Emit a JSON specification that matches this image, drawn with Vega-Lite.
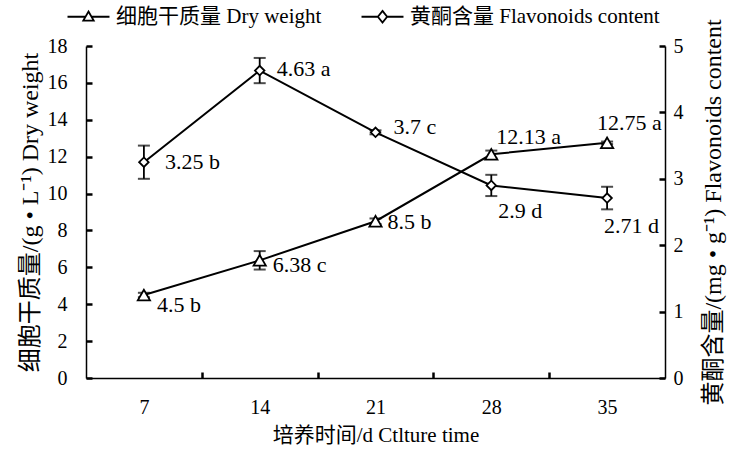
{
  "$schema": "https://vega.github.io/schema/vega-lite/v6.json",
  "width": 579,
  "height": 332,
  "autosize": {"type": "none"},
  "padding": {"left": 86, "top": 46, "right": 67, "bottom": 76},
  "background": "white",
  "config": {
    "view": {"stroke": null},
    "font": "Liberation Serif, Noto Sans CJK SC",
    "axis": {
      "grid": false,
      "domainColor": "black",
      "domainWidth": 1.5,
      "tickColor": "black",
      "tickWidth": 2.5,
      "tickSize": -6,
      "labelFont": "Liberation Serif",
      "labelFontSize": 20,
      "labelColor": "black",
      "labelOverlap": false,
      "labelFlush": false,
      "titleFont": "Liberation Serif, Noto Sans CJK SC",
      "titleFontWeight": "normal",
      "titleColor": "black"
    },
    "text": {"font": "Liberation Serif", "fontSize": 22, "color": "black", "baseline": "middle", "align": "left"}
  },
  "datasets": {
    "d": [
      {"series": "细胞干质量 Dry weight", "day": 7, "value": 4.5, "lo": 4.38, "hi": 4.62, "label": "4.5 b"},
      {"series": "细胞干质量 Dry weight", "day": 14, "value": 6.38, "lo": 5.88, "hi": 6.88, "label": "6.38 c"},
      {"series": "细胞干质量 Dry weight", "day": 21, "value": 8.5, "lo": 8.35, "hi": 8.65, "label": "8.5 b"},
      {"series": "细胞干质量 Dry weight", "day": 28, "value": 12.13, "lo": 11.93, "hi": 12.33, "label": "12.13 a"},
      {"series": "细胞干质量 Dry weight", "day": 35, "value": 12.75, "lo": 12.68, "hi": 12.82, "label": "12.75 a"},
      {"series": "黄酮含量 Flavonoids content", "day": 7, "value": 3.25, "lo": 3.0, "hi": 3.5, "label": "3.25 b"},
      {"series": "黄酮含量 Flavonoids content", "day": 14, "value": 4.63, "lo": 4.44, "hi": 4.82, "label": "4.63 a"},
      {"series": "黄酮含量 Flavonoids content", "day": 21, "value": 3.7, "lo": 3.67, "hi": 3.73, "label": "3.7 c"},
      {"series": "黄酮含量 Flavonoids content", "day": 28, "value": 2.9, "lo": 2.74, "hi": 3.06, "label": "2.9 d"},
      {"series": "黄酮含量 Flavonoids content", "day": 35, "value": 2.71, "lo": 2.54, "hi": 2.88, "label": "2.71 d"}
    ]
  },
  "data": {"name": "d"},
  "layer": [
    {
      "transform": [{"filter": "datum.series == '细胞干质量 Dry weight'"}],
      "encoding": {
        "x": {
          "field": "day", "type": "quantitative",
          "scale": {"domain": [3.5, 38.5], "nice": false, "zero": false},
          "axis": {
            "values": [7, 10.5, 14, 17.5, 21, 24.5, 28, 31.5, 35],
            "labelExpr": "datum.value % 7 == 0 ? datum.label : ''",
            "tickOpacity": {"condition": {"test": "datum.value % 7 == 0", "value": 0}, "value": 1},
            "labelPadding": 25,
            "title": "培养时间/d Ctlture time",
            "titleFontSize": 21,
            "titlePadding": 7
          }
        },
        "y": {
          "field": "value", "type": "quantitative",
          "scale": {"domain": [0, 18], "nice": false},
          "axis": {
            "orient": "left",
            "values": [0, 2, 4, 6, 8, 10, 12, 14, 16, 18],
            "labelPadding": 25,
            "title": "细胞干质量/(g • L⁻¹) Dry weight",
            "titleFontSize": 24,
            "titlePadding": 5
          }
        }
      },
      "layer": [
        {"mark": {"type": "rule", "color": "black", "strokeWidth": 1.8}, "encoding": {"y": {"field": "lo", "type": "quantitative"}, "y2": {"field": "hi"}}},
        {"mark": {"type": "tick", "orient": "horizontal", "color": "black", "size": 12, "thickness": 2}, "encoding": {"y": {"field": "lo", "type": "quantitative"}}},
        {"mark": {"type": "tick", "orient": "horizontal", "color": "black", "size": 12, "thickness": 2}, "encoding": {"y": {"field": "hi", "type": "quantitative"}}},
        {"mark": {"type": "line", "color": "black", "strokeWidth": 2}},
        {"mark": {"type": "point", "shape": "triangle-up", "filled": true, "fill": "white", "stroke": "black", "strokeWidth": 1.8, "size": 150, "opacity": 1}},
        {"mark": {"type": "point", "filled": false, "color": "black", "strokeWidth": 1.8, "size": 282, "opacity": 0},
         "encoding": {"shape": {"field": "series", "type": "nominal",
           "scale": {"domain": ["细胞干质量 Dry weight", "黄酮含量 Flavonoids content"],
                     "range": ["M-2.5,0H-0.36M0.36,0H2.5M0,-0.62L0.62,0.45L-0.62,0.45Z", "M-2.5,0H-0.55M0.55,0H2.5M0,-0.7L0.55,0L0,0.7L-0.55,0Z"]},
           "legend": {
             "orient": "none", "legendX": -8, "legendY": -40, "direction": "horizontal", "title": null,
             "symbolSize": 282, "symbolStrokeWidth": 1.8, "symbolStrokeColor": "black", "symbolOpacity": 1,
             "labelFont": "Liberation Serif, Noto Sans CJK SC", "labelFontSize": 21, "labelColor": "black", "labelOffset": 17, "labelLimit": 0, "columnPadding": 35
           }}}},
        {"transform": [{"filter": "datum.day == 7"}], "mark": {"type": "text", "dx": 13, "dy": 10}, "encoding": {"text": {"field": "label"}}},
        {"transform": [{"filter": "datum.day == 14"}], "mark": {"type": "text", "dx": 13, "dy": 5}, "encoding": {"text": {"field": "label"}}},
        {"transform": [{"filter": "datum.day == 21"}], "mark": {"type": "text", "dx": 12, "dy": 1}, "encoding": {"text": {"field": "label"}}},
        {"transform": [{"filter": "datum.day == 28"}], "mark": {"type": "text", "dx": 5, "dy": -17}, "encoding": {"text": {"field": "label"}}},
        {"transform": [{"filter": "datum.day == 35"}], "mark": {"type": "text", "dx": -10, "dy": -20}, "encoding": {"text": {"field": "label"}}}
      ]
    },
    {
      "transform": [{"filter": "datum.series == '黄酮含量 Flavonoids content'"}],
      "encoding": {
        "x": {"field": "day", "type": "quantitative", "scale": {"domain": [3.5, 38.5], "nice": false, "zero": false}},
        "y": {
          "field": "value", "type": "quantitative",
          "scale": {"domain": [0, 5], "nice": false},
          "axis": {
            "orient": "right",
            "values": [0, 1, 2, 3, 4, 5],
            "labelPadding": 14,
            "title": "黄酮含量/(mg • g⁻¹) Flavonoids content",
            "titleFontSize": 24,
            "titleAngle": 270,
            "titleBaseline": "top",
            "titlePadding": 18
          }
        }
      },
      "layer": [
        {"mark": {"type": "rule", "color": "black", "strokeWidth": 1.8}, "encoding": {"y": {"field": "lo", "type": "quantitative"}, "y2": {"field": "hi"}}},
        {"mark": {"type": "tick", "orient": "horizontal", "color": "black", "size": 12, "thickness": 2}, "encoding": {"y": {"field": "lo", "type": "quantitative"}}},
        {"mark": {"type": "tick", "orient": "horizontal", "color": "black", "size": 12, "thickness": 2}, "encoding": {"y": {"field": "hi", "type": "quantitative"}}},
        {"mark": {"type": "line", "color": "black", "strokeWidth": 2}},
        {"mark": {"type": "point", "shape": "diamond", "filled": true, "fill": "white", "stroke": "black", "strokeWidth": 1.8, "size": 90, "opacity": 1}},
        {"transform": [{"filter": "datum.day == 7"}], "mark": {"type": "text", "dx": 21, "dy": 0}, "encoding": {"text": {"field": "label"}}},
        {"transform": [{"filter": "datum.day == 14"}], "mark": {"type": "text", "dx": 17, "dy": -2}, "encoding": {"text": {"field": "label"}}},
        {"transform": [{"filter": "datum.day == 21"}], "mark": {"type": "text", "dx": 18, "dy": -5}, "encoding": {"text": {"field": "label"}}},
        {"transform": [{"filter": "datum.day == 28"}], "mark": {"type": "text", "dx": 7, "dy": 26}, "encoding": {"text": {"field": "label"}}},
        {"transform": [{"filter": "datum.day == 35"}], "mark": {"type": "text", "dx": -3, "dy": 28}, "encoding": {"text": {"field": "label"}}}
      ]
    }
  ],
  "resolve": {"scale": {"y": "independent"}}
}
